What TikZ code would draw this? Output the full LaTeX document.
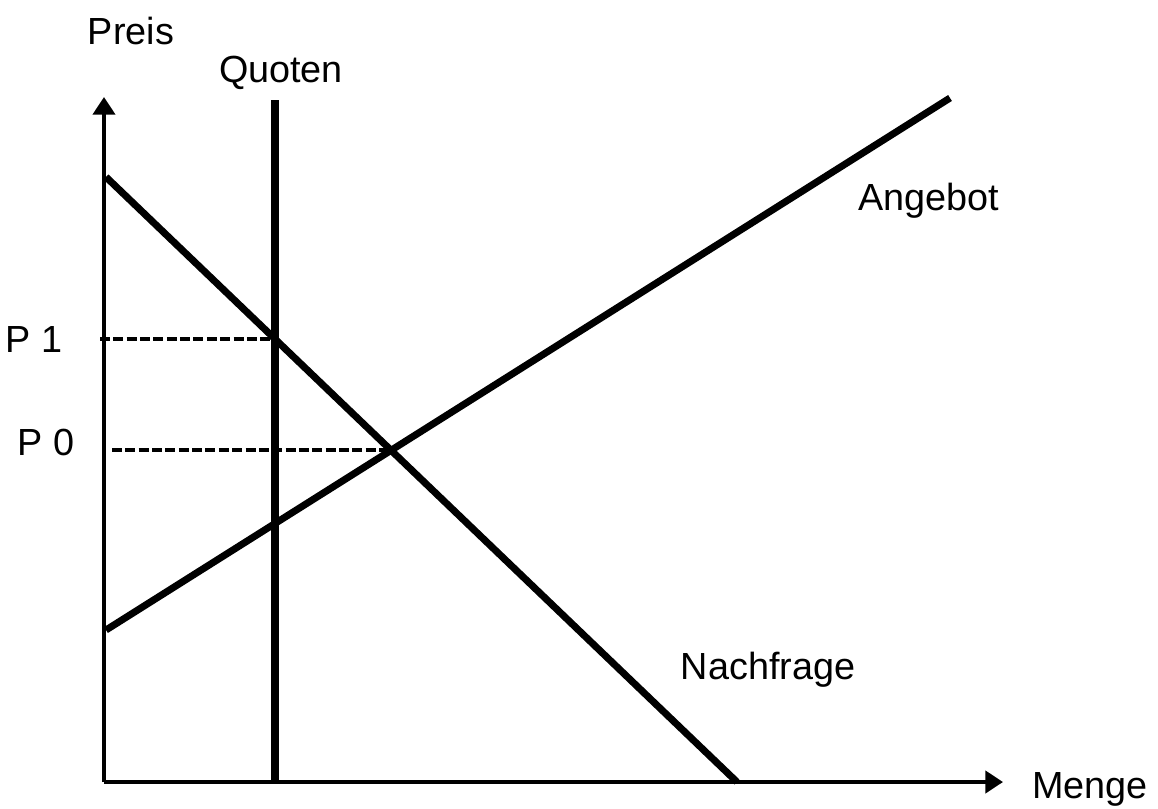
\documentclass[tikz,border=0pt]{standalone}
\usepackage{fontspec}
\setmainfont{Liberation Sans}
\usetikzlibrary{arrows.meta,positioning,calc}
\tikzset{
    axis/.style={line width=2.2pt,-{Triangle[length=10pt,width=12.5pt]}},
    curve/.style={line width=4pt},
    guide/.style={line width=2.3pt,dash pattern=on 5.7pt off 1.9pt},
    lbl/.style={inner sep=0pt,font=\fontsize{21.5}{25}\selectfont}
}

\begin{document}
\begin{tikzpicture}[x=0.02cm,y=-0.02cm]
    \useasboundingbox (0,0) rectangle (1158,808);
    % axes
    \coordinate (O) at (104,782);
    \coordinate (ytip) at (104,97);
    \coordinate (xtip) at (1003,782);
    \draw[axis] (O)--(ytip);
    \draw[axis] (O)--(xtip);
    % quota, demand, supply
    \coordinate (q0) at (275,782);
    \coordinate (q1) at (275,100);
    \coordinate (d0) at (106,177);
    \coordinate (d1) at (737,782);
    \coordinate (s0) at (106,630);
    \coordinate (s1) at (950,98);
    \draw[curve] (q0)--(q1);
    \draw[curve] (d0)--(d1);
    \draw[curve] (s0)--(s1);
    % prices
    \coordinate (p1) at (intersection of d0--d1 and q0--q1);
    \coordinate (p0) at (intersection of d0--d1 and s0--s1);
    \coordinate (p1l) at (100,0 |- p1);
    \coordinate (p0l) at (112,0 |- p0);
    \draw[guide] (p1l)--(p1);
    \draw[guide] (p0l)--(p0);
    \node[lbl] (preis) at (131,31) {Preis};
    \node[lbl] (quoten) at (281,73) {Quoten};
    \node[lbl] (angebot) at (929,201) {Angebot};
    \node[lbl] (nachfrage) at (768,670) {Nachfrage};
    \node[lbl] (pe1) at (34,339) {P 1};
    \node[lbl] (pe0) at (46,442) {P 0};
    \node[lbl] (menge) at (1090,789) {Menge};
\end{tikzpicture}
\end{document}
